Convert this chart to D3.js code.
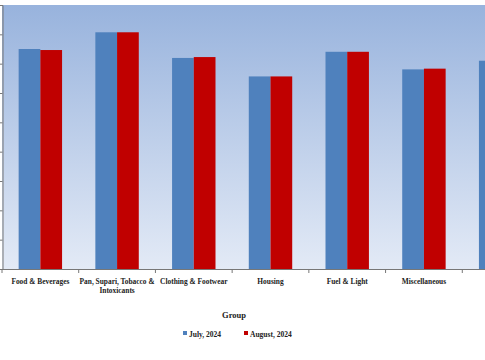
<!DOCTYPE html>
<html>
<head>
<meta charset="utf-8">
<script src="https://cdn.jsdelivr.net/npm/d3@7"></script>
<style>
body { margin: 0; background: #fff; }
text { font-family: "Liberation Serif", "Times New Roman", serif; font-weight: bold; fill: #222; }
</style>
</head>
<body>
<div id="chart"></div>
<script>
var categories = [["Food & Beverages"], ["Pan, Supari, Tobacco &", "Intoxicants"], ["Clothing & Footwear"],
	["Housing"], ["Fuel & Light"], ["Miscellaneous"], ["General"]];
var julyValues = [150.0, 161.4, 143.9, 131.3, 148.1, 136.1, 142.0];
var augustValues = [149.3, 161.4, 144.5, 131.3, 148.1, 136.6, 142.0];
var seriesNames = ["July, 2024", "August, 2024"];
var seriesColors = ["#4f81bd", "#c00000"];
var yTicks = [0, 20, 40, 60, 80, 100, 120, 140, 160, 180];

var width = 485, height = 360;
var plotLeft = 2, plotRight = 539, plotTop = 5, plotBottom = 269;

var svg = d3.select("#chart").append("svg").attr("width", width).attr("height", height);

var defs = svg.append("defs");
var grad = defs.append("linearGradient").attr("id", "bg").attr("x1", 0).attr("y1", 0).attr("x2", 0).attr("y2", 1);
grad.append("stop").attr("offset", "0%").attr("stop-color", "#98b3dd");
grad.append("stop").attr("offset", "100%").attr("stop-color", "#e3eaf6");

svg.append("rect").attr("x", plotLeft).attr("y", plotTop).attr("width", plotRight - plotLeft)
	.attr("height", plotBottom - plotTop).attr("fill", "url(#bg)");

var names = categories.map(function(d) { return d.join(" "); });

var x = d3.scaleBand().domain(names).range([plotLeft, plotRight]).paddingInner(0.434).paddingOuter(0.217);
var x1 = d3.scaleBand().domain(seriesNames).range([0, x.bandwidth()]);
var y = d3.scaleLinear().domain([0, 180]).range([plotBottom, plotTop]);

var rows = names.map(function(n, i) {
	return { name: n, values: [julyValues[i], augustValues[i]] };
});

var groups = svg.selectAll("g.grp").data(rows).enter().append("g").attr("class", "grp")
	.attr("transform", function(d) { return "translate(" + x(d.name) + ",0)"; });

groups.selectAll("rect").data(function(d) {
	return d.values.map(function(v, j) { return { s: seriesNames[j], v: v, c: seriesColors[j] }; });
}).enter().append("rect")
	.attr("x", function(d) { return x1(d.s); })
	.attr("y", function(d) { return y(d.v); })
	.attr("width", x1.bandwidth())
	.attr("height", function(d) { return plotBottom - y(d.v); })
	.attr("fill", function(d) { return d.c; });

// y axis: tick labels fall outside the cropped view, so only line and ticks
var yAxis = svg.append("g").attr("transform", "translate(" + (plotLeft + 0.5) + ",0)")
	.call(d3.axisLeft(y).tickValues(yTicks).tickSize(5).tickFormat(""));
yAxis.selectAll("path, line").attr("stroke", "#777");

// x axis line with ticks between groups
var step = x.step();
svg.append("line").attr("x1", plotLeft).attr("x2", plotRight).attr("y1", plotBottom + 0.5).attr("y2", plotBottom + 0.5)
	.attr("stroke", "#777");
var bounds = names.map(function(n) { return x(n) - step * 0.217; });
svg.selectAll("line.xt").data(bounds).enter().append("line").attr("class", "xt")
	.attr("x1", function(d) { return d; }).attr("x2", function(d) { return d; })
	.attr("y1", plotBottom).attr("y2", plotBottom + 4).attr("stroke", "#777");

var labels = svg.selectAll("text.cat").data(categories).enter().append("text").attr("class", "cat")
	.attr("text-anchor", "middle").attr("font-size", 7.4)
	.attr("y", 284);
labels.each(function(d, i) {
	var t = d3.select(this);
	d.forEach(function(line, k) {
		t.append("tspan").attr("x", x(names[i]) + x.bandwidth() / 2).attr("dy", k === 0 ? 0 : 9).text(line);
	});
});

svg.append("text").attr("x", 234).attr("y", 318).attr("text-anchor", "middle")
	.attr("font-size", 8.5).text("Group");

var legendX = [183, 244];
var legend = svg.selectAll("g.leg").data(seriesNames).enter().append("g").attr("class", "leg")
	.attr("transform", function(d, i) { return "translate(" + legendX[i] + ",334)"; });
legend.append("rect").attr("x", 0).attr("y", -3).attr("width", 4).attr("height", 4)
	.attr("fill", function(d, i) { return seriesColors[i]; });
legend.append("text").attr("x", 6).attr("y", 2.5).attr("font-size", 7.5).text(function(d) { return d; });
</script>
</body>
</html>
